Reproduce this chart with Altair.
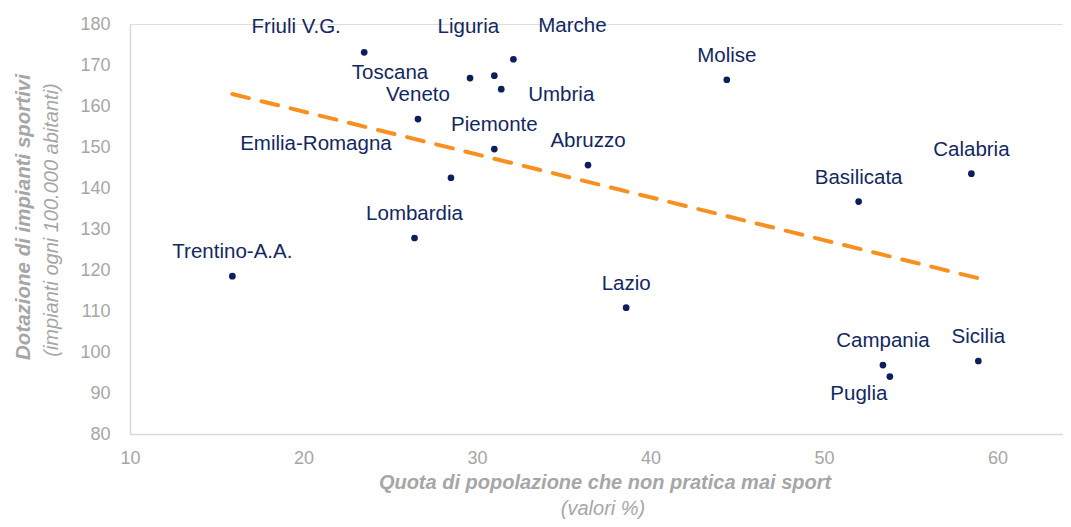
import altair as alt
import pandas as pd

regions = ["Friuli V.G.", "Liguria", "Marche", "Toscana", "Umbria", "Molise",
           "Veneto", "Piemonte", "Abruzzo", "Emilia-Romagna", "Calabria",
           "Basilicata", "Lombardia", "Trentino-A.A.", "Lazio", "Campania",
           "Puglia", "Sicilia"]
non_sport = [23.5, 31.0, 32.1, 29.6, 31.4, 44.4,
             26.6, 31.0, 36.4, 28.5, 58.5,
             52.0, 26.4, 15.9, 38.6, 53.4,
             53.8, 58.9]
impianti = [173.1, 167.4, 171.4, 166.8, 164.1, 166.4,
            156.8, 149.5, 145.6, 142.5, 143.5,
            136.7, 127.8, 118.5, 110.8, 96.8,
            94.0, 97.8]

x_title = "Quota di popolazione che non pratica mai sport"
x_sub = "(valori %)"
y_title = "Dotazione di impianti sportivi"
y_sub = "(impianti ogni 100.000 abitanti)"

df = pd.DataFrame({"region": regions, "x": non_sport, "y": impianti})

FONT = "Liberation Sans"
NAVY = "#0b1f5e"
TEXTNAVY = "#13285f"
GRAY = "#a6a6a6"
ORANGE = "#f7901e"

xs = alt.X("x:Q", scale=alt.Scale(domain=[10, 63.78], nice=False, zero=False),
           axis=alt.Axis(values=[10, 20, 30, 40, 50, 60], title=None, grid=False,
                         ticks=False, domainColor="#d9d9d9", domainWidth=1.5,
                         labelColor=GRAY, labelFontSize=18, labelFont=FONT,
                         labelPadding=15, labelFlush=False))
ys = alt.Y("y:Q", scale=alt.Scale(domain=[80, 180], nice=False, zero=False),
           axis=alt.Axis(values=list(range(80, 181, 10)), title=None, grid=False,
                         ticks=False, domainColor="#d9d9d9", domainWidth=1.5,
                         labelColor=GRAY, labelFontSize=18, labelFont=FONT,
                         labelPadding=20))

base = alt.Chart(df)

trend = base.transform_regression("x", "y").mark_line(
    color=ORANGE, strokeWidth=4, strokeDash=[17, 13], strokeCap="round"
).encode(x=xs, y=ys)

points = base.mark_circle(size=45, color=NAVY, opacity=1).encode(x=xs, y=ys)

def labels(names, dx, dy):
    return base.transform_filter(
        alt.FieldOneOfPredicate(field="region", oneOf=names)
    ).mark_text(font=FONT, fontSize=20.5, color=TEXTNAVY, dx=dx, dy=dy,
                baseline="middle", align="center").encode(
        x=xs, y=ys, text="region:N")

above = ["Veneto", "Piemonte", "Abruzzo", "Lombardia", "Molise", "Basilicata",
         "Calabria", "Trentino-A.A.", "Lazio", "Campania", "Sicilia"]
label_layers = [
    labels(above, 0, -24),
    labels(["Friuli V.G."], -68, -25),
    labels(["Liguria"], -26, -49),
    labels(["Marche"], 59, -33),
    labels(["Toscana"], -80, -5),
    labels(["Umbria"], 60, 6),
    labels(["Emilia-Romagna"], -135, -34),
    labels(["Puglia"], -31, 17),
]

one = alt.Chart(pd.DataFrame({"a": [0]}))
t_y1 = one.mark_text(font=FONT, fontSize=20.5, fontWeight="bold", fontStyle="italic",
                     color=GRAY, angle=270, align="center", baseline="middle").encode(
    x=alt.value(-106), y=alt.value(193), text=alt.value(y_title))
t_y2 = one.mark_text(font=FONT, fontSize=20, fontStyle="italic",
                     color=GRAY, angle=270, align="center", baseline="middle").encode(
    x=alt.value(-78), y=alt.value(196), text=alt.value(y_sub))
t_x1 = one.mark_text(font=FONT, fontSize=20, fontWeight="bold", fontStyle="italic",
                     color=GRAY, align="center", baseline="middle").encode(
    x=alt.value(475), y=alt.value(459), text=alt.value(x_title))
t_x2 = one.mark_text(font=FONT, fontSize=20, fontStyle="italic",
                     color=GRAY, align="center", baseline="middle").encode(
    x=alt.value(473), y=alt.value(485), text=alt.value(x_sub))

chart = alt.layer(trend, points, *label_layers, t_y1, t_y2, t_x1, t_x2).properties(
    width=933, height=410,
    autosize=alt.AutoSizeParams(type="none"),
    padding={"left": 122, "top": 16, "right": 0, "bottom": 85},
).configure_view(stroke=None).configure(background="white")

chart.save("out.html", embed_options={"renderer": "svg", "actions": False})
